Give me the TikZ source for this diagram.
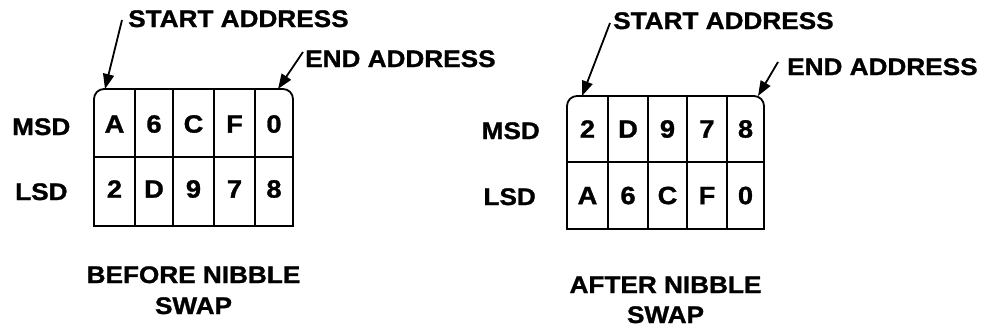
\documentclass[tikz,border=0pt]{standalone}
\usepackage{fontspec}
\setmainfont{Liberation Sans}[FakeStretch=1.09, BoldFeatures={FakeBold=1.2}]
\usetikzlibrary{arrows.meta}
\begin{document}
\begin{tikzpicture}[x=1pt,y=-1pt,
  lbl/.style={font=\fontsize{24}{28}\selectfont\bfseries, inner sep=0pt, anchor=base west},
  ctr/.style={font=\fontsize{24}{28}\selectfont\bfseries, inner sep=0pt, anchor=base},
  dig/.style={font=\fontsize{25}{29}\selectfont\bfseries, inner sep=0pt},
  boxline/.style={line width=1.8pt},
  arr/.style={line width=1.8pt, -{Triangle[length=15pt,width=11pt]}}]
\useasboundingbox (0,0) rectangle (987,330);
% ---------- left box ----------
\draw[boxline, rounded corners=10pt] (94,226) -- (94,89) -- (293,89) -- (293,226);
\draw[boxline, line cap=rect] (94,226) -- (293,226);
\draw[boxline] (94,157) -- (293,157);
\foreach \x in {135,173,214,255} \draw[boxline] (\x,89) -- (\x,226);
\node[dig] (la1) at (114.5,124) {A};
\node[dig] (la2) at (154,124) {6};
\node[dig] (la3) at (193.5,124) {C};
\node[dig] (la4) at (234.5,124) {F};
\node[dig] (la5) at (274,124) {0};
\node[dig] (lb1) at (114.5,189) {2};
\node[dig] (lb2) at (154,189) {D};
\node[dig] (lb3) at (193.5,189) {9};
\node[dig] (lb4) at (234.5,189) {7};
\node[dig] (lb5) at (274,189) {8};
\node[lbl] (lmsd) at (12,135) {MSD};
\node[lbl] (llsd) at (15,200) {LSD};
\node[lbl] (lsa) at (128,27) {START ADDRESS};
\node[lbl] (lea) at (305,67) {END ADDRESS};
\coordinate (lsat) at (122,20);
\coordinate (lsah) at (105,89);
\coordinate (leat) at (303,52);
\coordinate (leah) at (278,89);
\draw[arr] (lsat) -- (lsah);
\draw[arr] (leat) -- (leah);
\node[ctr] (lb1t) at (193.5,283) {BEFORE NIBBLE};
\node[ctr] (lb2t) at (193.5,314) {SWAP};
% ---------- right box ----------
\draw[boxline, rounded corners=10pt] (567,229) -- (567,96) -- (764,96) -- (764,229);
\draw[boxline, line cap=rect] (567,229) -- (764,229);
\draw[boxline] (567,162) -- (764,162);
\foreach \x in {608,648,687,727} \draw[boxline] (\x,96) -- (\x,229);
\node[dig] (ra1) at (587.5,129) {2};
\node[dig] (ra2) at (628,129) {D};
\node[dig] (ra3) at (667.5,129) {9};
\node[dig] (ra4) at (707,129) {7};
\node[dig] (ra5) at (745.5,129) {8};
\node[dig] (rb1) at (587.5,195.5) {A};
\node[dig] (rb2) at (628,195.5) {6};
\node[dig] (rb3) at (667.5,195.5) {C};
\node[dig] (rb4) at (707,195.5) {F};
\node[dig] (rb5) at (745.5,195.5) {0};
\node[lbl, anchor=base east] (rmsd) at (540,139) {MSD};
\node[lbl, anchor=base east] (rlsd) at (536,205) {LSD};
\node[lbl] (rsa) at (613,29) {START ADDRESS};
\node[lbl] (rea) at (787,75) {END ADDRESS};
\coordinate (rsat) at (610,23);
\coordinate (rsah) at (582,96);
\coordinate (reat) at (778,62);
\coordinate (reah) at (758,96);
\draw[arr] (rsat) -- (rsah);
\draw[arr] (reat) -- (reah);
\node[ctr] (rb1t) at (665.5,293) {AFTER NIBBLE};
\node[ctr] (rb2t) at (665.5,323) {SWAP};
\end{tikzpicture}
\end{document}
